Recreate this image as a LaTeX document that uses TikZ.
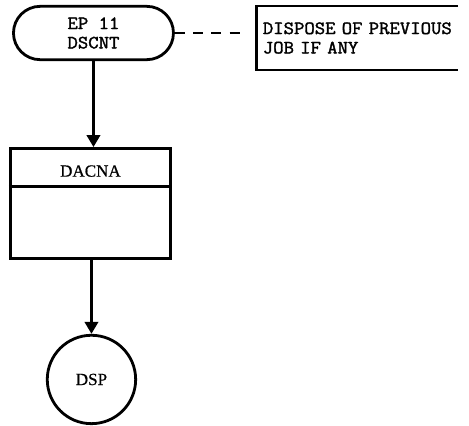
\documentclass[tikz,border=0pt]{standalone}
\usepackage{fontspec}
\setmainfont{Liberation Serif}[FakeBold=0.6]
\newfontfamily\monofont{Latin Modern Mono}[FakeBold=1.8, FakeStretch=1.08]
\usetikzlibrary{positioning, arrows.meta, shapes.misc, shapes.geometric}

\begin{document}
\begin{tikzpicture}[node distance=64.5pt, >={Triangle[length=9pt,width=10pt]}]

\tikzset{
  terminal/.style={
    rounded rectangle, draw, line width=2.1pt, align=center,
    minimum width=120pt, minimum height=40pt, inner sep=0pt,
    font=\monofont\fontsize{14}{14.5}\selectfont
  },
  procbox/.style={
    rectangle, draw, line width=2.1pt,
    minimum width=120.4pt, minimum height=82.5pt, inner sep=0pt
  },
  connector/.style={
    circle, draw, line width=2.1pt, minimum size=66.3pt, inner sep=0pt,
    font=\fontsize{12.8}{14}\selectfont
  },
  note/.style={
    rectangle, align=left, outer sep=0pt, inner xsep=4.5pt,
    text width=150pt, minimum height=48pt,
    font=\monofont\fontsize{14}{14.5}\selectfont
  },
  arrow/.style={->, line width=2.1pt},
  notebar/.style={line width=2.1pt},
  dashedlink/.style={line width=2.2pt, dash pattern=on 7.5pt off 6.2pt}
}

\useasboundingbox (0,0) rectangle (351.75pt,-319.5pt);

% =========================================================
% Entry point, subroutine box and exit connector
% =========================================================
\node[terminal] (ep) at (70.1pt,-24.75pt) {EP 11\\DSCNT};
\node[procbox, below=of ep, xshift=-2.25pt] (dacna) {};
\node[connector, below=55.5pt of dacna, xshift=0.75pt] (dsp) {DSP};

\draw[line width=2.1pt] ([yshift=-29.5pt]dacna.north west) -- ([yshift=-29.5pt]dacna.north east);
\node[font=\fontsize{12.8}{14}\selectfont] (dacnaname) at ([yshift=-18pt]dacna.north) {DACNA};

\draw[arrow] (ep.south) -- (ep.south |- dacna.north);
\draw[arrow] (dsp.north |- dacna.south) -- (dsp.north);

% =========================================================
% Comment on the entry point
% =========================================================
\node[note, right=61.5pt of ep, yshift=-3.75pt] (cmt) {DISPOSE OF PREVIOUS\\JOB IF ANY};
\draw[notebar] ([xshift=-8pt]cmt.north east) -- (cmt.north west) -- (cmt.south west) -- ([xshift=-8pt]cmt.south east);

\coordinate (dashend) at ([xshift=-11pt]ep.east -| cmt.west);
\draw[dashedlink] (ep.east) -- (dashend);

\end{tikzpicture}
\end{document}
